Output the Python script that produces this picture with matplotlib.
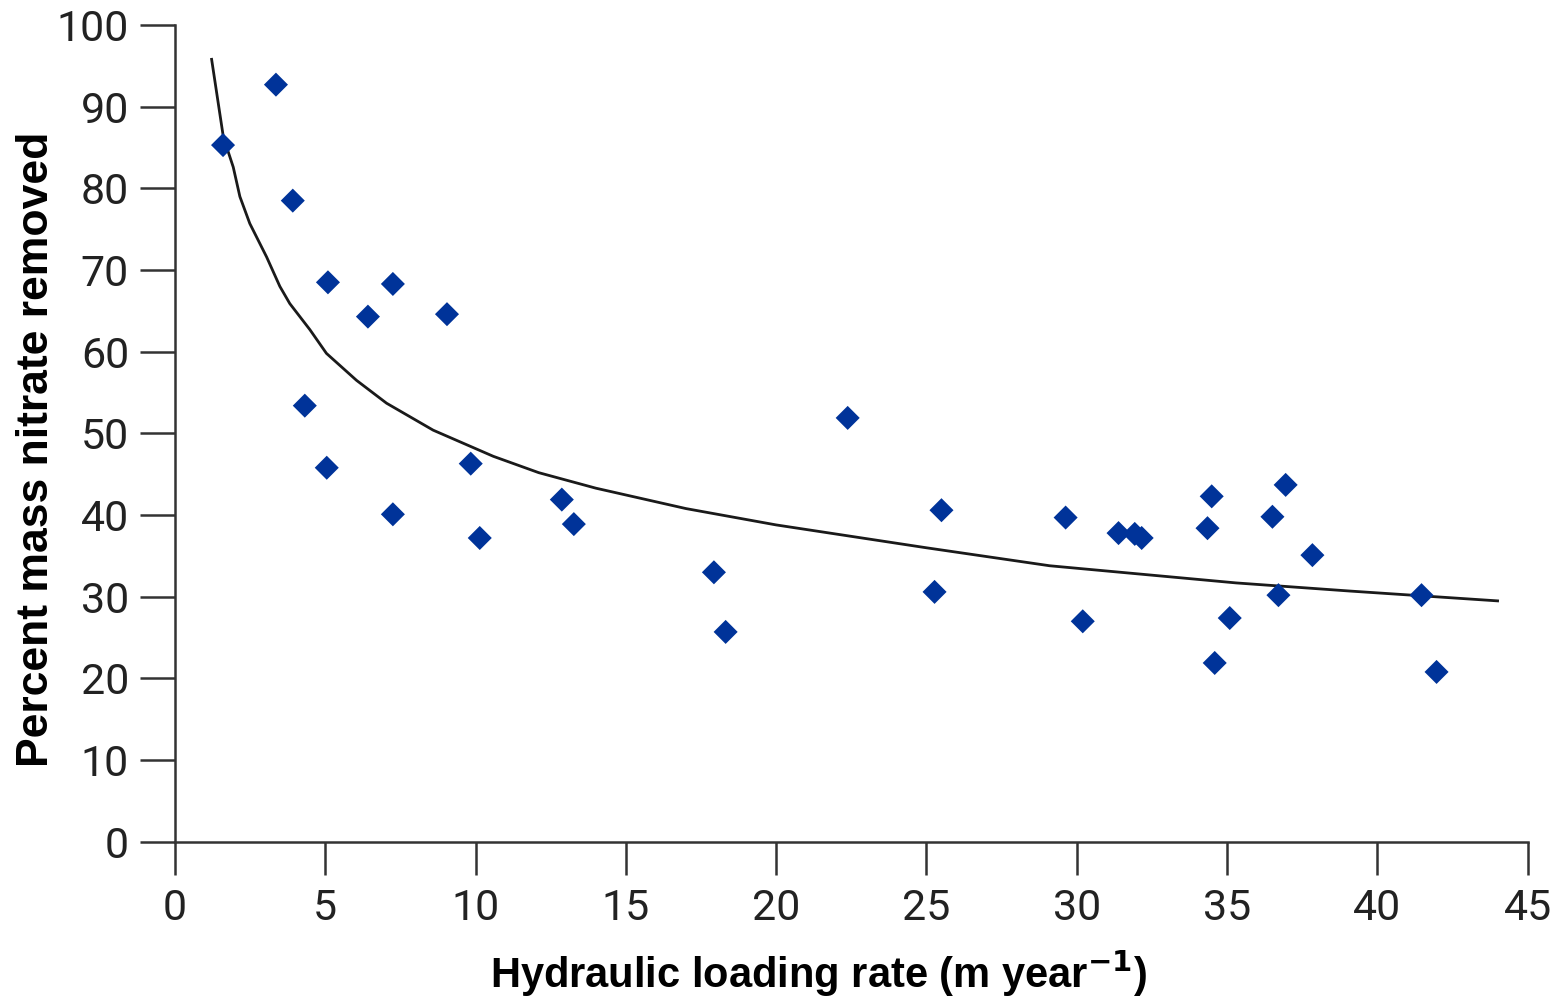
import matplotlib.pyplot as plt

# Measured points (hydraulic loading rate, percent nitrate removed)
loading = [1.6, 3.36, 3.92, 4.32, 5.09, 5.05, 6.42, 7.25, 7.25, 9.05, 9.84, 10.14,
           12.87, 13.27, 17.93, 18.32, 22.38, 25.27, 25.5, 29.63, 30.2, 31.39,
           31.93, 32.16, 34.35, 34.49, 34.59, 35.09, 36.51, 36.71, 36.95, 37.84,
           41.47, 41.97]
removed = [85.3, 92.7, 78.5, 53.4, 68.5, 45.8, 64.3, 68.3, 40.1, 64.6, 46.3, 37.2,
           41.9, 38.9, 33.0, 25.7, 51.9, 30.6, 40.6, 39.7, 27.0, 37.8,
           37.7, 37.2, 38.4, 42.3, 21.9, 27.4, 39.8, 30.2, 43.7, 35.1,
           30.2, 20.8]

# Trend line
trend_x = [1.22, 1.61, 1.94, 2.16, 2.49, 3.05, 3.49, 3.82, 4.49, 5.04, 6.04, 7.04,
           8.59, 10.59, 12.1, 14.0, 17.0, 20, 25, 29.1, 35.3, 39.1, 44.0]
trend_y = [95.8, 86.3, 82.6, 79.0, 75.7, 71.6, 68.0, 65.9, 62.7, 59.8, 56.5, 53.7,
           50.4, 47.2, 45.2, 43.3, 40.8, 38.8, 36.0, 33.8, 31.7, 30.7, 29.5]

xticks = list(range(0, 50, 5))
yticks = list(range(0, 110, 10))

fig = plt.figure(figsize=(15.62, 10.01), dpi=100)
ax = fig.add_axes([0.112, 0.159, 0.866, 0.816])

ax.plot(trend_x, trend_y, color='#1a1a1a', linewidth=2.0, zorder=2)
ax.scatter(loading, removed, marker='D', s=150, color='#003399', edgecolors='none', zorder=3)

ax.set_xlim(0, 45)
ax.set_ylim(0, 100)
ax.set_xticks(xticks)
ax.set_yticks(yticks)

for s in ['top', 'right']:
    ax.spines[s].set_visible(False)
for s in ['left', 'bottom']:
    ax.spines[s].set_linewidth(1.8)
    ax.spines[s].set_color('#333333')

ax.tick_params(axis='y', length=25, width=1.8, color='#333333', pad=8)
ax.tick_params(axis='x', length=24, width=1.8, color='#333333', pad=9)
for lab in ax.get_xticklabels() + ax.get_yticklabels():
    lab.set_fontfamily('Roboto')
    lab.set_fontsize(31)
    lab.set_color('#222222')

ax.set_xlabel('Hydraulic loading rate (m year$^{\\mathbf{-1}}$)', fontsize=30,
              fontweight='bold', family='Liberation Sans', labelpad=14)
ax.set_ylabel('Percent mass nitrate removed', fontsize=32,
              fontweight='bold', family='Liberation Sans', labelpad=0)
# labels sit a bit off-centre in the original
ax.xaxis.label.set_x(0.476)
ax.yaxis.label.set_y(0.48)

plt.savefig('out.png', dpi=100)
